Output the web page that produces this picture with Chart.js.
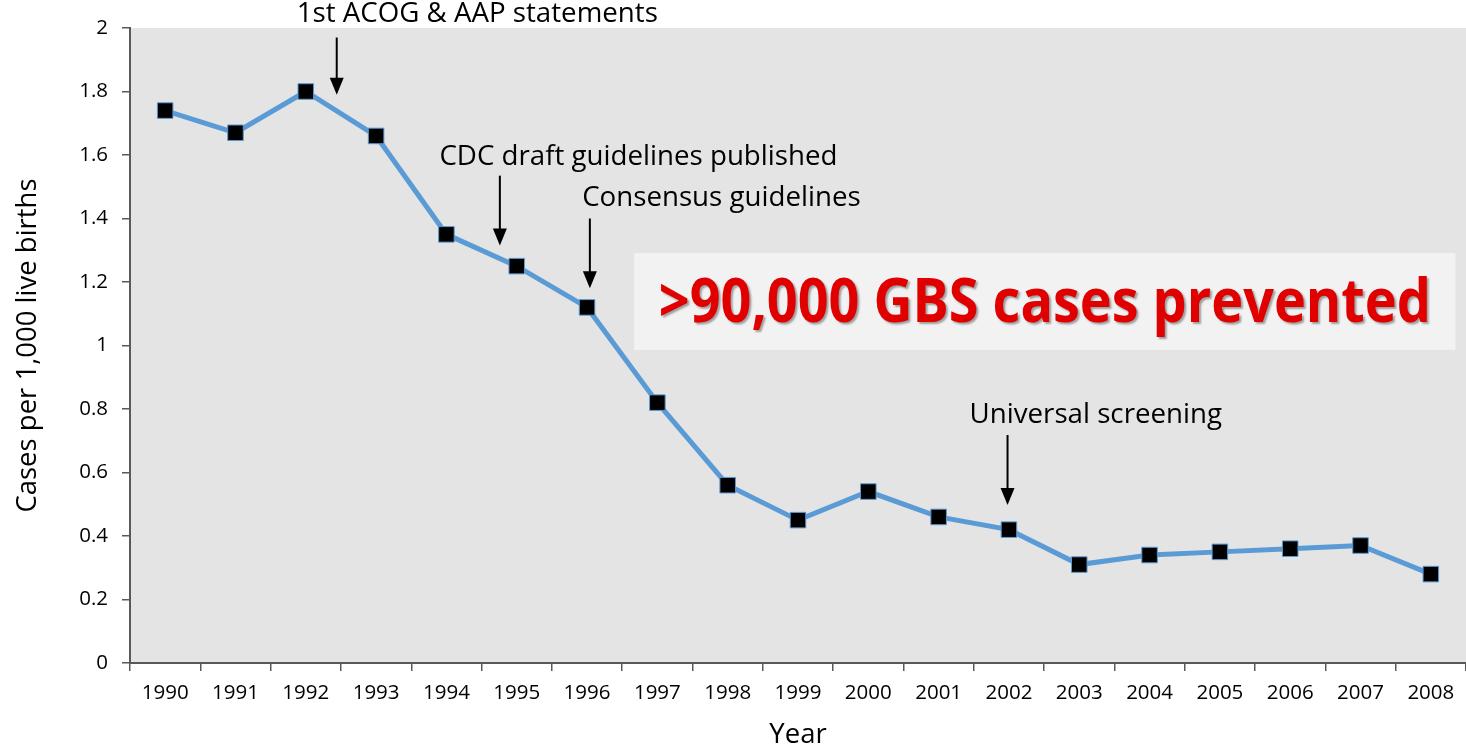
<!DOCTYPE html>
<html>
<head>
<meta charset="utf-8">
<script src="https://cdn.jsdelivr.net/npm/chart.js@4"></script>
<style>
  html, body { margin: 0; padding: 0; background: #fff; overflow: hidden; }
  #wrap { width: 1466px; height: 752px; position: relative; }
</style>
</head>
<body>
<div id="wrap"><canvas id="chart"></canvas></div>
<script>
const years = ['1990','1991','1992','1993','1994','1995','1996','1997','1998','1999',
               '2000','2001','2002','2003','2004','2005','2006','2007','2008'];
const casesPer1000 = [1.74, 1.67, 1.80, 1.66, 1.35, 1.25, 1.12, 0.82, 0.56, 0.45,
                      0.54, 0.46, 0.42, 0.31, 0.34, 0.35, 0.36, 0.37, 0.28];
const yTicksMax = 2;
const yTicksStep = 0.2;

const annotationTexts = ['1st ACOG & AAP statements', 'CDC draft guidelines published',
                         'Consensus guidelines', 'Universal screening'];
const calloutText = '>90,000 GBS cases prevented';

// where the notes sit, in category index / y value units
const notes = [
  { arrowX: 2.44, textX: 1.87, textY: 2.045, top: 1.97, tip: 1.79 },
  { arrowX: 4.76, textX: 3.90, textY: 1.594, top: 1.535, tip: 1.315 },
  { arrowX: 6.04, textX: 5.93, textY: 1.465, top: 1.40, tip: 1.18 },
  { arrowX: 11.98, textX: 11.44, textY: 0.781, top: 0.718, tip: 0.498 },
];
const calloutBox = { x0: 6.67, x1: 18.35, y0: 1.291, y1: 0.986 };

const FONT = 'Open Sans';

const plotBg = {
  id: 'plotBg',
  beforeDraw(chart) {
    const { ctx, chartArea: a } = chart;
    ctx.save();
    ctx.fillStyle = '#e4e4e4';
    ctx.fillRect(a.left, a.top, a.right - a.left, a.bottom - a.top);
    ctx.restore();
  }
};

const notesPlugin = {
  id: 'notes',
  afterDatasetsDraw(chart) {
    const { ctx, scales: { x, y } } = chart;
    ctx.save();

    // callout box
    const bx0 = x.getPixelForValue(calloutBox.x0), bx1 = x.getPixelForValue(calloutBox.x1);
    const by0 = y.getPixelForValue(calloutBox.y0), by1 = y.getPixelForValue(calloutBox.y1);
    ctx.fillStyle = '#f2f2f2';
    ctx.fillRect(bx0, by0, bx1 - bx0, by1 - by0);

    ctx.font = `bold 60px "${FONT}"`;
    const w = ctx.measureText(calloutText).width;
    const target = (bx1 - bx0) * 0.94;
    ctx.save();
    ctx.translate((bx0 + bx1) / 2, (by0 + by1) / 2 + 3);
    ctx.scale(target / w, 1);
    ctx.textAlign = 'center';
    ctx.textBaseline = 'middle';
    ctx.shadowColor = 'rgba(0,0,0,0.35)';
    ctx.shadowOffsetX = 2;
    ctx.shadowOffsetY = 2;
    ctx.shadowBlur = 2;
    ctx.fillStyle = '#e00000';
    ctx.fillText(calloutText, 0, 0);
    ctx.restore();

    // arrows and labels
    ctx.fillStyle = '#000';
    ctx.strokeStyle = '#000';
    ctx.lineWidth = 2;
    ctx.font = `27.7px "${FONT}"`;
    ctx.textAlign = 'left';
    ctx.textBaseline = 'middle';
    notes.forEach((n, i) => {
      ctx.fillText(annotationTexts[i], x.getPixelForValue(n.textX), y.getPixelForValue(n.textY));
      const ax = x.getPixelForValue(n.arrowX);
      const top = y.getPixelForValue(n.top), tip = y.getPixelForValue(n.tip);
      ctx.beginPath();
      ctx.moveTo(ax, top);
      ctx.lineTo(ax, tip - 14);
      ctx.stroke();
      ctx.beginPath();
      ctx.moveTo(ax - 7, tip - 17);
      ctx.lineTo(ax + 7, tip - 17);
      ctx.lineTo(ax, tip);
      ctx.closePath();
      ctx.fill();
    });
    ctx.restore();
  }
};

new Chart(document.getElementById('chart'), {
  type: 'line',
  data: {
    labels: years,
    datasets: [{
      data: casesPer1000,
      borderColor: '#5b9bd5',
      borderWidth: 5,
      tension: 0,
      pointStyle: 'rect',
      pointRadius: 11,
      pointHoverRadius: 11,
      pointBackgroundColor: '#000',
      pointBorderColor: '#5b9bd5',
      pointBorderWidth: 1,
    }],
  },
  options: {
    responsive: true,
    maintainAspectRatio: false,
    animation: false,
    layout: { autoPadding: false, padding: { top: 28, right: 0, left: 0, bottom: 0 } },
    plugins: {
      legend: { display: false },
      tooltip: { enabled: false },
    },
    scales: {
      x: {
        offset: true,
        grid: { offset: true, drawOnChartArea: false, tickLength: 8, color: '#595959', lineWidth: 1.5 },
        border: { color: '#595959', width: 2 },
        ticks: { color: '#000', font: { family: FONT, size: 20.5 }, maxRotation: 0, padding: 10 },
        title: { display: true, text: 'Year', color: '#000', font: { family: FONT, size: 27.5 }, padding: { top: 12, bottom: 0 } },
        afterFit: s => { s.height = 89; s.paddingLeft = 0; s.paddingRight = 0; },
      },
      y: {
        min: 0,
        max: yTicksMax,
        ticks: {
          stepSize: yTicksStep, color: '#000', font: { family: FONT, size: 20.5 }, padding: 14,
          callback: v => String(Math.round(v * 10) / 10),
        },
        grid: { drawOnChartArea: false, tickLength: 8, color: '#595959', lineWidth: 1.5 },
        border: { color: '#595959', width: 2 },
        title: { display: true, text: 'Cases per 1,000 live births', color: '#000', font: { family: FONT, size: 27.5 }, padding: { top: 12, bottom: 0 } },
        afterFit: s => { s.width = 130; },
      },
    },
  },
  plugins: [plotBg, notesPlugin],
});
</script>
</body>
</html>
